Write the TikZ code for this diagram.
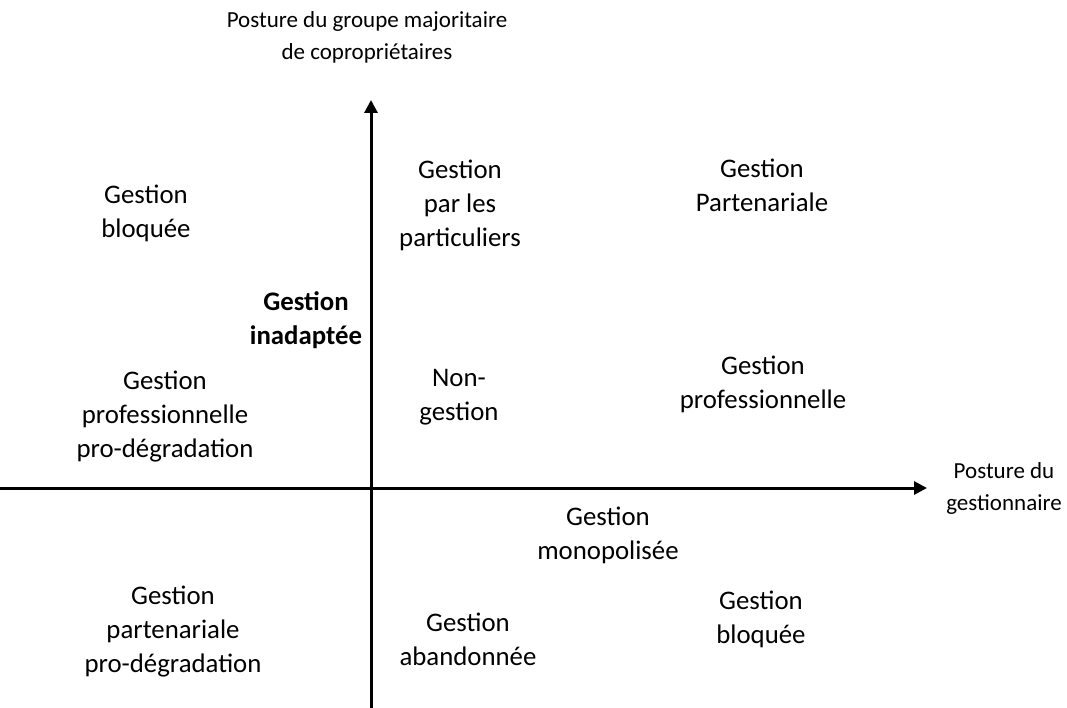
\documentclass[tikz,border=0pt]{standalone}
\usepackage{fontspec}
\setmainfont{Carlito}
\usepackage{tikz}
\usetikzlibrary{positioning,arrows.meta}

\tikzset{
  cell/.style={align=center, inner sep=0pt, font=\fontsize{26.8}{34}\selectfont},
  axislabel/.style={align=center, inner sep=0pt, font=\fontsize{23}{32}\selectfont},
  axis/.style={line width=3pt, -{Triangle[length=13pt, width=13pt]}}
}

\begin{document}
\begin{tikzpicture}[x=1pt, y=-1pt]
  \useasboundingbox (0,0) rectangle (1067,708);
  % axes
  \coordinate (ybot) at (371,708);
  \coordinate (ytop) at (371,100);
  \coordinate (xleft) at (0,488);
  \coordinate (xright) at (927,488);
  \draw[axis] (xleft) -- (xright);
  \draw[axis] (ybot) -- (ytop);
  \node[axislabel] (ylab) at (367,37) {Posture du groupe majoritaire\\de copropriétaires};
  \node[axislabel] (xlab) at (1004,488) {Posture du\\gestionnaire};
  % upper half
  \node[cell] (bloqueeA) at (146,213) {Gestion\\bloquée};
  \node[cell] (particuliers) at (460,205) {Gestion\\par les\\particuliers};
  \node[cell] (partenariale) at (762,185) {Gestion\\Partenariale};
  \node[cell, font=\fontsize{26.8}{34}\selectfont\bfseries] (inadaptee) at (306,320) {Gestion\\inadaptée};
  \node[cell] (profdegr) at (165,417) {Gestion\\professionnelle\\pro-dégradation};
  \node[cell] (nongestion) at (459,397) {Non-\\gestion};
  \node[cell] (professionnelle) at (763,384) {Gestion\\professionnelle};
  % lower half
  \node[cell] (monopolisee) at (608,535) {Gestion\\monopolisée};
  \node[cell] (partdegr) at (173,632) {Gestion\\partenariale\\pro-dégradation};
  \node[cell] (abandonnee) at (468,639) {Gestion\\abandonnée};
  \node[cell] (bloqueeB) at (761,619) {Gestion\\bloquée};
\end{tikzpicture}
\end{document}
